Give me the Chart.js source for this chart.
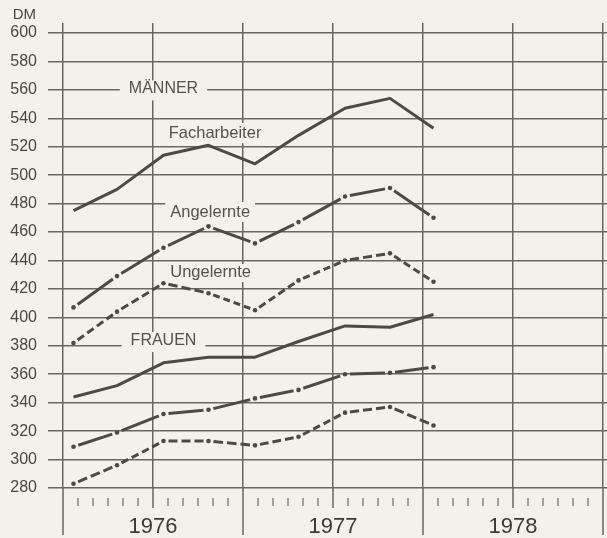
<!DOCTYPE html>
<html>
<head>
<meta charset="utf-8">
<script src="https://cdn.jsdelivr.net/npm/chart.js@4.4.0/dist/chart.umd.min.js"></script>
<style>
  html, body { margin: 0; padding: 0; background: #f3f2ea; }
  canvas { display: block; }
</style>
</head>
<body>
<canvas id="lohnChart" width="607" height="538"></canvas>
<script>
// Wochenverdienste in DM, quarterly readings 1976 - early 1978
const quarters = ['I/76', 'II/76', 'III/76', 'IV/76', 'I/77', 'II/77', 'III/77', 'IV/77', 'I/78'];
// position of each reading in months since Jan 1976
const quarterMonth = [0.7, 3.6, 6.7, 9.7, 12.8, 15.7, 18.8, 21.8, 24.7];

const maennerFach = [475, 490, 514, 521, 508, 528, 547, 554, 533];
const maennerAngelernt = [407, 429, 449, 464, 452, 467, 485, 491, 470];
const maennerUngelernt = [382, 404, 424, 417, 405, 426, 440, 445, 425];

const frauenFach = [344, 352, 368, 372, 372, 383, 394, 393, 402];
const frauenAngelernt = [309, 319, 332, 335, 343, 349, 360, 361, 365];
const frauenUngelernt = [283, 296, 313, 313, 310, 316, 333, 337, 324];

const yTicks = [280, 300, 320, 340, 360, 380, 400, 420, 440, 460, 480, 500, 520, 540, 560, 580, 600];
const gridMonths = [0, 6, 12, 18, 24, 30, 36];
const yearLabels = ['1976', '1977', '1978'];

// text labels inside the plot, anchored in data units (month, DM)
const plotLabels = [
  { text: 'MÄNNER', month: 6.7, value: 557.5, align: 'center', size: 16, padX: 9, padTop: 13, padBottom: 7 },
  { text: 'FRAUEN', month: 6.7, value: 380.5, align: 'center', size: 16, padX: 9, padTop: 13, padBottom: 7 },
  { text: 'Facharbeiter', month: 7.05, value: 526, align: 'left', size: 16.5, padX: 5, padTop: 15, padBottom: 5 },
  { text: 'Angelernte', month: 7.15, value: 470.6, align: 'left', size: 16.5, padX: 5, padTop: 15, padBottom: 5 },
  { text: 'Ungelernte', month: 7.15, value: 428.4, align: 'left', size: 16.5, padX: 5, padTop: 13, padBottom: 5 }
];

const paper = '#f3f2ea';
const gridColor = '#66685e';
const lineColor = '#4c4a46';
const fontFamily = "'Liberation Sans', Arial, sans-serif";

const toPoints = (values) => values.map((v, i) => ({ x: quarterMonth[i], y: v }));

// segments start and end a little away from the points so the dots stand free
const GAP = 5;
const segmentDash = (kind) => ({
  borderDash: (ctx) => {
    const len = Math.hypot(ctx.p1.x - ctx.p0.x, ctx.p1.y - ctx.p0.y) - 2 * GAP;
    if (kind === 'dashdot') return [Math.max(len, 1), 1000];
    const dash = 8, gap = 4;
    const n = Math.max(1, Math.round((len + gap) / (dash + gap)));
    const d = (len - (n - 1) * gap) / n;
    const pattern = [];
    for (let i = 0; i < n; i++) pattern.push(d, i < n - 1 ? gap : 1000);
    return pattern;
  },
  borderDashOffset: -GAP
});

const makeSet = (label, values, kind) => ({
  label: label,
  data: toPoints(values),
  borderColor: lineColor,
  backgroundColor: lineColor,
  borderWidth: 3,
  borderJoinStyle: 'round',
  pointRadius: kind === 'solid' ? 0 : 2.3,
  pointBorderWidth: 0,
  pointBackgroundColor: lineColor,
  tension: 0,
  segment: kind === 'solid' ? undefined : segmentDash(kind)
});

const paperPlugin = {
  id: 'paper',
  beforeDraw(chart) {
    const ctx = chart.ctx;
    ctx.save();
    ctx.fillStyle = paper;
    ctx.fillRect(0, 0, chart.width, chart.height);
    ctx.restore();
  }
};

const labelPlugin = {
  id: 'plotLabels',
  beforeDatasetsDraw(chart) {
    const { ctx, scales: { x, y }, chartArea } = chart;
    ctx.save();
    plotLabels.forEach((l) => {
      ctx.font = l.size + 'px ' + fontFamily;
      const w = ctx.measureText(l.text).width;
      const px = x.getPixelForValue(l.month);
      const py = y.getPixelForValue(l.value);
      const left = l.align === 'center' ? px - w / 2 : px;
      ctx.fillStyle = paper;
      ctx.fillRect(left - l.padX, py - l.padTop, w + 2 * l.padX, l.padTop + l.padBottom);
      ctx.fillStyle = '#52524d';
      ctx.textAlign = 'left';
      ctx.textBaseline = 'alphabetic';
      ctx.fillText(l.text, left, py);
    });
    // unit above the value axis
    ctx.font = '15px ' + fontFamily;
    ctx.fillStyle = '#474744';
    ctx.textAlign = 'right';
    ctx.fillText('DM', chartArea.left - 27, chartArea.top - 4);
    ctx.restore();
  }
};

const timeAxisPlugin = {
  id: 'timeAxis',
  afterDraw(chart) {
    const { ctx, scales: { x }, chartArea } = chart;
    const bottom = chartArea.bottom;
    ctx.save();
    ctx.strokeStyle = gridColor;
    ctx.lineWidth = 1.5;
    gridMonths.forEach((m) => {
      const px = x.getPixelForValue(m);
      ctx.beginPath();
      ctx.moveTo(px, bottom);
      ctx.lineTo(px, bottom + (m % 12 === 0 ? 47 : 20));
      ctx.stroke();
    });
    ctx.lineWidth = 1.2;
    for (let m = 1; m < 36; m++) {
      if (m % 6 === 0) continue;
      const px = x.getPixelForValue(m);
      ctx.beginPath();
      ctx.moveTo(px, bottom + 10);
      ctx.lineTo(px, bottom + 18);
      ctx.stroke();
    }
    ctx.restore();
  }
};

new Chart(document.getElementById('lohnChart'), {
  type: 'line',
  data: {
    datasets: [
      makeSet('Männer Facharbeiter', maennerFach, 'solid'),
      makeSet('Männer Angelernte', maennerAngelernt, 'dashdot'),
      makeSet('Männer Ungelernte', maennerUngelernt, 'dashed'),
      makeSet('Frauen Facharbeiter', frauenFach, 'solid'),
      makeSet('Frauen Angelernte', frauenAngelernt, 'dashdot'),
      makeSet('Frauen Ungelernte', frauenUngelernt, 'dashed')
    ]
  },
  options: {
    responsive: false,
    animation: false,
    layout: { autoPadding: false, padding: { top: 23, right: 0, left: 0, bottom: 0 } },
    plugins: {
      legend: { display: false },
      tooltip: { enabled: false }
    },
    scales: {
      x: {
        type: 'linear',
        min: 0,
        max: 36 * 544 / 540,
        afterBuildTicks: (s) => { s.ticks = gridMonths.map((v) => ({ value: v })); },
        afterFit: (s) => { s.height = 50; },
        // invisible tick marks only push the year labels down
        grid: { color: gridColor, lineWidth: 1.5, drawTicks: true, tickLength: 26, tickColor: 'rgba(0,0,0,0)' },
        border: { display: false },
        ticks: {
          autoSkip: false,
          maxRotation: 0,
          padding: 0,
          color: '#3a3a38',
          font: { family: fontFamily, size: 22 },
          callback: (v) => (v % 12 === 6 ? yearLabels[(v - 6) / 12] : '')
        }
      },
      y: {
        type: 'linear',
        min: 280,
        max: 607,
        afterBuildTicks: (s) => { s.ticks = yTicks.map((v) => ({ value: v })); },
        afterFit: (s) => { s.width = 63; },
        grid: { color: gridColor, lineWidth: 1.5, drawTicks: true, tickLength: 15, tickColor: gridColor },
        border: { display: false },
        ticks: {
          padding: 11,
          color: '#474744',
          font: { family: fontFamily, size: 16 }
        }
      }
    }
  },
  plugins: [paperPlugin, labelPlugin, timeAxisPlugin]
});
</script>
</body>
</html>
